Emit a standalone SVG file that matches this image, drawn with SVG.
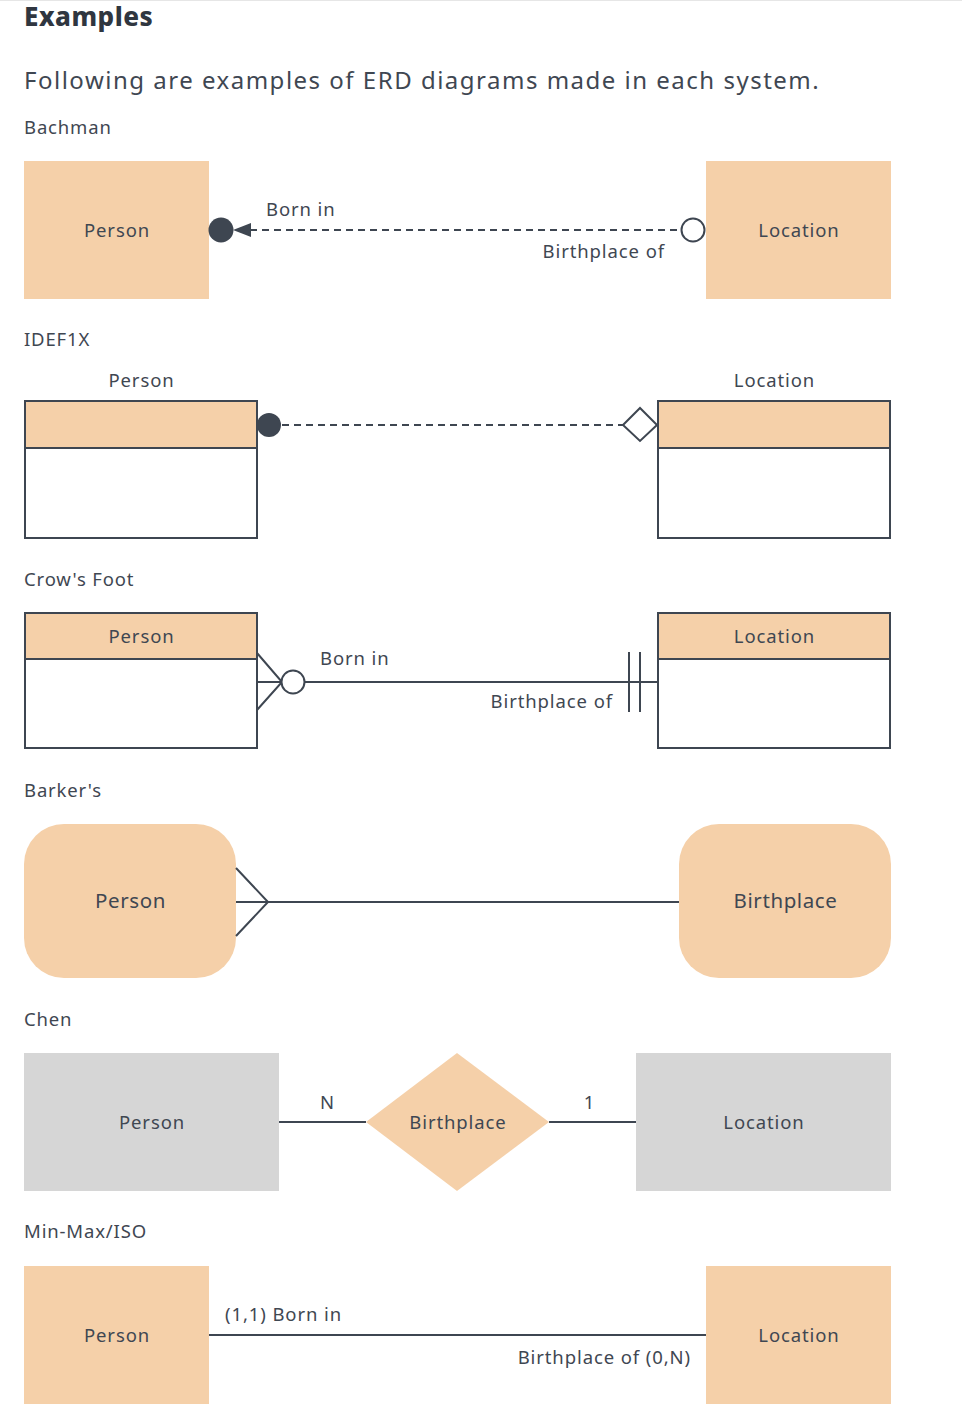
<svg xmlns="http://www.w3.org/2000/svg" width="962" height="1426" viewBox="0 0 962 1426">
  <defs>
    <style>
      text { font-family: "Noto Sans", "Open Sans", "Liberation Sans", sans-serif; fill: #3f4752; }
      .h1 { font-size: 26px; font-weight: 800; fill: #2f3640; letter-spacing: 0.5px; }
      .intro { font-size: 24px; letter-spacing: 1.5px; }
      .sec { font-size: 18.5px; letter-spacing: 0.85px; }
      .lbl { font-size: 18.5px; letter-spacing: 0.9px; }
      .big { font-size: 20.5px; letter-spacing: 0.6px; }
      .c { text-anchor: middle; }
      .r { text-anchor: end; }
      .ent { fill: #f5d0a9; }
      .gray { fill: #d6d6d6; }
      .tbl { fill: #ffffff; stroke: #3e4651; stroke-width: 2; }
      .hdr { fill: #f5d0a9; stroke: #3e4651; stroke-width: 2; }
      .ln { stroke: #3e4651; stroke-width: 2; fill: none; }
      .dash { stroke: #3e4651; stroke-width: 2; fill: none; stroke-dasharray: 7 5; }
      .dot { fill: #3e4651; }
      .open { fill: #ffffff; stroke: #3e4651; stroke-width: 2; }
    </style>
  </defs>

  <rect x="0" y="0" width="962" height="1426" fill="#ffffff"/>
  <line x1="0" y1="0.5" x2="962" y2="0.5" stroke="#e6e6e6" stroke-width="1"/>

  <text class="h1" x="24" y="26">Examples</text>
  <text class="intro" x="24" y="89">Following are examples of ERD diagrams made in each system.</text>

  <!-- Bachman -->
  <text class="sec" x="24" y="134">Bachman</text>
  <g id="bachman-person">
    <rect class="ent" x="24" y="161" width="185" height="138"/>
    <text class="lbl c" x="117" y="237">Person</text>
  </g>
  <g id="bachman-location">
    <rect class="ent" x="706" y="161" width="185" height="138"/>
    <text class="lbl c" x="799" y="237">Location</text>
  </g>

  <!-- IDEF1X -->
  <text class="sec" x="24" y="346">IDEF1X</text>
  <g id="idef-person">
    <text class="lbl c" x="141.5" y="387">Person</text>
    <rect class="tbl" x="25" y="401" width="232" height="137"/>
    <rect class="hdr" x="25" y="401" width="232" height="47"/>
  </g>
  <g id="idef-location">
    <text class="lbl c" x="774.5" y="387">Location</text>
    <rect class="tbl" x="658" y="401" width="232" height="137"/>
    <rect class="hdr" x="658" y="401" width="232" height="47"/>
  </g>

  <!-- Crow's Foot -->
  <text class="sec" x="24" y="586">Crow's Foot</text>
  <g id="crow-person">
    <rect class="tbl" x="25" y="613" width="232" height="135"/>
    <rect class="hdr" x="25" y="613" width="232" height="46"/>
    <text class="lbl c" x="141.5" y="643">Person</text>
  </g>
  <g id="crow-location">
    <rect class="tbl" x="658" y="613" width="232" height="135"/>
    <rect class="hdr" x="658" y="613" width="232" height="46"/>
    <text class="lbl c" x="774.5" y="643">Location</text>
  </g>

  <!-- Barker's -->
  <text class="sec" x="24" y="797">Barker's</text>
  <g id="barker-person">
    <rect class="ent" x="24" y="824" width="212" height="154" rx="40" ry="40"/>
    <text class="big c" x="130.5" y="908">Person</text>
  </g>
  <g id="barker-birthplace">
    <rect class="ent" x="679" y="824" width="212" height="154" rx="40" ry="40"/>
    <text class="big c" x="785.5" y="908">Birthplace</text>
  </g>

  <!-- Chen -->
  <text class="sec" x="24" y="1026">Chen</text>
  <g id="chen-person">
    <rect class="gray" x="24" y="1053" width="255" height="138"/>
    <text class="lbl c" x="152" y="1129">Person</text>
  </g>
  <g id="chen-birthplace">
    <polygon class="ent" points="457,1053 549,1122 457,1191 366,1122"/>
    <text class="lbl c" x="458" y="1129">Birthplace</text>
  </g>
  <g id="chen-location">
    <rect class="gray" x="636" y="1053" width="255" height="138"/>
    <text class="lbl c" x="764" y="1129">Location</text>
  </g>

  <!-- Min-Max/ISO -->
  <text class="sec" x="24" y="1238">Min-Max/ISO</text>
  <g id="iso-person">
    <rect class="ent" x="24" y="1266" width="185" height="138"/>
    <text class="lbl c" x="117" y="1342">Person</text>
  </g>
  <g id="iso-location">
    <rect class="ent" x="706" y="1266" width="185" height="138"/>
    <text class="lbl c" x="799" y="1342">Location</text>
  </g>

  <!-- relationship lines and their end symbols -->
  <g id="connectors">
    <!-- Bachman -->
    <line class="dash" x1="250" y1="230" x2="682" y2="230"/>
    <circle class="dot" cx="221" cy="230" r="12.5"/>
    <polygon class="dot" points="233,230 251,223 251,237"/>
    <circle class="open" cx="693" cy="230" r="11.5"/>
    <text class="lbl" x="266" y="216">Born in</text>
    <text class="lbl r" x="665" y="258">Birthplace of</text>

    <!-- IDEF1X -->
    <line class="dash" x1="282" y1="425" x2="623" y2="425"/>
    <circle class="dot" cx="269" cy="425" r="12"/>
    <polygon class="open" points="623,425 640,408 657,425 640,441"/>

    <!-- Crow's Foot -->
    <line class="ln" x1="257" y1="682" x2="658" y2="682"/>
    <polyline class="ln" points="257,653 282,682 257,710"/>
    <circle class="open" cx="293" cy="682" r="11.5"/>
    <line class="ln" x1="629" y1="652" x2="629" y2="712"/>
    <line class="ln" x1="640" y1="652" x2="640" y2="712"/>
    <text class="lbl" x="320" y="665">Born in</text>
    <text class="lbl r" x="613" y="708">Birthplace of</text>

    <!-- Barker's -->
    <line class="ln" x1="236" y1="902" x2="679" y2="902"/>
    <polyline class="ln" points="236,868 268,902 236,936"/>

    <!-- Chen -->
    <line class="ln" x1="279" y1="1122" x2="366" y2="1122"/>
    <line class="ln" x1="549" y1="1122" x2="636" y2="1122"/>
    <text class="lbl c" x="327.5" y="1109">N</text>
    <text class="lbl c" x="589.5" y="1109">1</text>

    <!-- Min-Max/ISO -->
    <line class="ln" x1="209" y1="1335" x2="706" y2="1335"/>
    <text class="lbl" x="225" y="1321">(1,1) Born in</text>
    <text class="lbl r" x="691" y="1364">Birthplace of (0,N)</text>
  </g>
</svg>
